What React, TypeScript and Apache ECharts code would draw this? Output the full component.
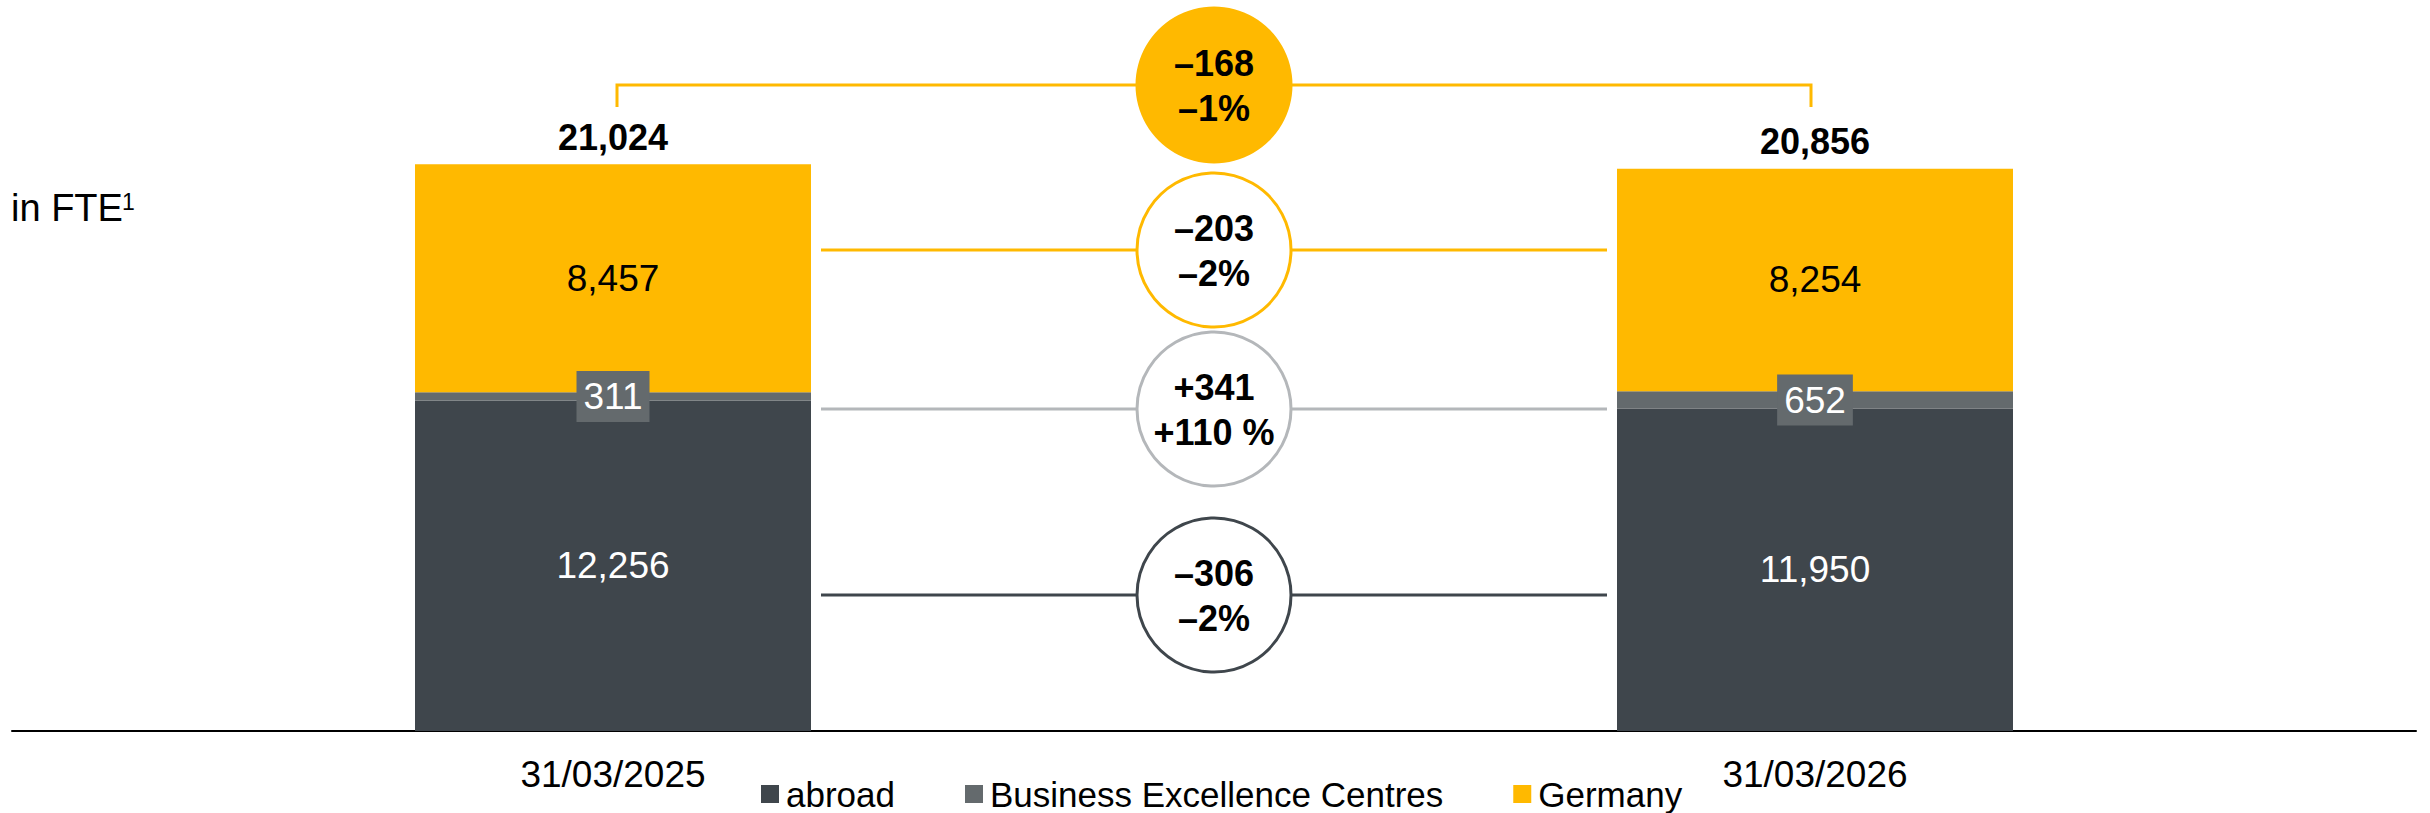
import React, { useEffect, useRef } from "react";
import * as echarts from "echarts";

// ---- data ----
const categories = ["31/03/2025", "31/03/2026"];
const abroad = [12256, 11950];
const bec = [311, 652];
const germany = [8457, 8254];
const totals = [21024, 20856];
const deltaAbs = ["–168", "–203", "+341", "–306"];
const deltaPct = ["–1%", "–2%", "+110 %", "–2%"];
const seriesNames = ["abroad", "Business Excellence Centres", "Germany"];

// ---- styles ----
const FONT = "'Liberation Sans', Arial, Helvetica, sans-serif";
const YELLOW = "#FFB900";
const DARK = "#3F464C";
const MID = "#646A6D";
const LIGHT = "#B4B7BA";

const fmt = (v: number) => v.toLocaleString("en-US");

export default function App() {
  const ref = useRef<HTMLDivElement>(null);

  useEffect(() => {
    if (!ref.current) return;
    const chart = echarts.init(ref.current, undefined, { renderer: "svg" });

    // annotation layout (pixels)
    const cx = 1214;
    const circleY = [85, 250, 409, 595];
    const circleStroke = [YELLOW, YELLOW, LIGHT, DARK];
    const circleFill = [YELLOW, "#fff", "#fff", "#fff"];
    const lineX1 = 821;
    const lineX2 = 1607;

    const graphic: any[] = [];
    graphic.push({
      type: "polyline",
      z: 10,
      shape: { points: [[617, 107], [617, 85], [1811, 85], [1811, 107]] },
      style: { stroke: YELLOW, lineWidth: 3, fill: null },
    });
    for (let i = 1; i < 4; i++) {
      graphic.push({
        type: "line",
        z: 10,
        shape: { x1: lineX1, y1: circleY[i], x2: lineX2, y2: circleY[i] },
        style: { stroke: circleStroke[i], lineWidth: 3 },
      });
    }
    for (let i = 0; i < 4; i++) {
      graphic.push({
        type: "circle",
        z: 11,
        shape: { cx, cy: circleY[i], r: i === 0 ? 78.5 : 77 },
        style: { fill: circleFill[i], stroke: i === 0 ? null : circleStroke[i], lineWidth: 3 },
      });
      graphic.push({
        type: "text",
        z: 12,
        x: cx,
        y: circleY[i] + 1,
        style: {
          text: deltaAbs[i] + "\n" + deltaPct[i],
          fontFamily: FONT,
          fontSize: 36,
          fontWeight: "bold",
          lineHeight: 45,
          align: "center",
          verticalAlign: "middle",
          fill: "#000",
        },
      });
    }
    graphic.push({
      type: "text",
      x: 11,
      y: 208,
      style: { text: "in FTE", fontFamily: FONT, fontSize: 38, fill: "#000", align: "left", verticalAlign: "middle" },
    });
    graphic.push({
      type: "text",
      x: 122,
      y: 202,
      style: { text: "1", fontFamily: FONT, fontSize: 23, fill: "#000", align: "left", verticalAlign: "middle" },
    });

    const barBase = {
      type: "bar",
      stack: "total",
      barWidth: 396,
    };

    chart.setOption({
      animation: false,
      grid: { left: 12, right: 14, top: 57, bottom: 82, containLabel: false },
      xAxis: {
        type: "category",
        data: categories,
        axisLine: { show: true, lineStyle: { color: "#000", width: 2 } },
        axisTick: { show: false },
        axisLabel: { fontFamily: FONT, fontSize: 37, color: "#000", margin: 25, lineHeight: 37 },
      },
      yAxis: {
        type: "value",
        min: 0,
        max: 25000,
        show: false,
        splitLine: { show: false },
      },
      legend: {
        data: seriesNames,
        left: 761,
        top: 776,
        padding: 0,
        itemWidth: 18,
        itemHeight: 18,
        itemGap: 70,
        icon: "rect",
        textStyle: { fontFamily: FONT, fontSize: 35, color: "#000", lineHeight: 36, padding: [0, 0, 0, 2] },
      },
      series: [
        {
          ...barBase,
          name: seriesNames[0],
          data: abroad,
          itemStyle: { color: DARK },
          label: {
            show: true,
            position: "inside",
            fontFamily: FONT,
            fontSize: 37,
            color: "#fff",
            formatter: (p: any) => fmt(p.value),
          },
        },
        {
          ...barBase,
          name: seriesNames[1],
          data: bec,
          itemStyle: { color: MID },
          label: {
            show: true,
            position: "inside",
            fontFamily: FONT,
            fontSize: 37,
            lineHeight: 37,
            color: "#fff",
            backgroundColor: MID,
            padding: [7, 7, 7, 7],
            formatter: (p: any) => fmt(p.value),
          },
        },
        {
          ...barBase,
          name: seriesNames[2],
          data: germany,
          itemStyle: { color: YELLOW },
          label: {
            show: true,
            position: "inside",
            fontFamily: FONT,
            fontSize: 37,
            color: "#000",
            formatter: (p: any) => fmt(p.value),
          },
        },
        {
          type: "scatter",
          name: "total",
          data: totals,
          symbol: "circle",
          symbolSize: 1,
          itemStyle: { color: "rgba(0,0,0,0)", opacity: 1 },
          silent: true,
          label: {
            show: true,
            position: "top",
            distance: 8.5,
            fontFamily: FONT,
            fontSize: 36,
            lineHeight: 36,
            fontWeight: "bold",
            color: "#000",
            opacity: 1,
            formatter: (p: any) => fmt(p.value),
          },
        },
      ],
      graphic,
    });

    return () => chart.dispose();
  }, []);

  return (
    <div
      ref={ref}
      style={{ position: "fixed", left: 0, top: 0, width: 2430, height: 813, background: "#fff" }}
    />
  );
}
